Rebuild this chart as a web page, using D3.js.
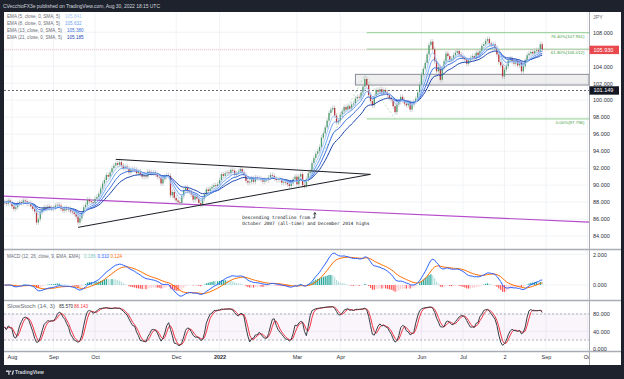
<!DOCTYPE html>
<html>
<head>
<meta charset="utf-8">
<script src="https://cdn.jsdelivr.net/npm/d3@7"></script>
<style>
html, body { margin: 0; padding: 0; background: #1e222d; }
svg { display: block; font-family: "Liberation Sans", Arial, sans-serif; }
</style>
</head>
<body>
<div id="chart"></div>
<script>
// ---- data (CAD/JPY daily closes) ----
const firstDay = "2021-07-27";
const jul21 = [88.0, 87.8, 88.2, 87.9];
const aug21 = [87.5, 87.2, 87.4, 87.8, 88.0, 87.9, 88.2, 88.1, 87.8, 87.9, 87.5, 87.2, 86.9, 85.6, 86.0, 86.8, 87.1, 87.4, 87.2, 87.5, 87.3, 87.2];
const sep21 = [87.3, 87.6, 87.7, 87.6, 87.2, 87.0, 87.3, 87.1, 87.2, 86.9, 86.8, 86.6, 86.3, 85.6, 86.1, 86.7, 87.4, 87.7, 88.3, 88.1, 88.0, 87.9];
const oct21 = [88.4, 88.6, 89.0, 89.6, 90.2, 90.6, 91.2, 91.0, 91.5, 92.0, 92.3, 92.6, 92.4, 92.7, 92.3, 92.0, 92.2, 92.0, 91.5, 91.8, 91.9];
const nov21 = [91.8, 91.4, 91.6, 91.3, 91.0, 91.2, 91.0, 91.6, 91.5, 91.4, 91.5, 91.3, 91.0, 90.9, 90.2, 90.7, 91.0, 91.2, 91.1, 88.8, 89.2, 88.5];
const dec21 = [88.2, 88.0, 87.9, 88.7, 89.4, 89.7, 89.3, 89.2, 88.9, 88.3, 88.7, 88.4, 87.9, 87.7, 88.4, 88.9, 89.5, 89.3, 89.6, 89.8, 90.0, 89.9, 90.1];
const jan22 = [90.6, 91.3, 91.1, 91.4, 91.5, 91.4, 91.8, 91.7, 91.2, 91.4, 91.6, 91.9, 91.5, 91.2, 90.5, 90.3, 90.4, 90.8, 90.4, 90.9, 90.8];
const feb22 = [90.8, 90.6, 90.4, 90.6, 90.6, 90.9, 91.2, 91.1, 90.8, 90.6, 90.7, 90.6, 90.3, 90.4, 90.3, 90.1, 89.9, 90.2, 90.7, 91.0];
const mar22 = [90.1, 91.0, 91.3, 90.0, 89.9, 90.7, 91.4, 91.6, 92.6, 93.2, 93.7, 94.0, 94.5, 95.6, 96.1, 96.8, 97.6, 98.5, 98.9, 99.1, 98.2, 97.4, 97.6];
const apr22 = [98.3, 98.7, 99.2, 98.9, 99.3, 99.0, 99.5, 99.6, 100.2, 100.4, 100.3, 100.9, 101.6, 102.5, 101.8, 100.6, 99.9, 99.4, 100.5, 101.2, 101.0];
const may22 = [101.3, 100.8, 101.2, 100.9, 100.6, 100.3, 100.1, 99.3, 98.6, 99.5, 99.8, 100.4, 100.0, 99.6, 99.4, 99.7, 98.9, 99.5, 99.8, 100.2, 100.9, 101.8];
const jun22 = [103.0, 103.7, 104.4, 105.4, 106.5, 106.9, 106.0, 104.6, 103.4, 103.9, 102.4, 103.8, 104.6, 105.5, 105.2, 104.7, 104.9, 105.3, 105.6, 105.8, 105.4, 105.2];
const jul22 = [105.0, 104.8, 104.3, 104.7, 105.0, 105.2, 104.9, 105.6, 105.3, 105.8, 106.4, 106.6, 107.0, 107.2, 106.7, 106.5, 106.6, 106.2, 105.4, 104.5, 104.1];
const aug22 = [102.8, 103.6, 104.0, 104.7, 104.9, 104.6, 104.3, 104.6, 104.1, 104.4, 103.4, 104.0, 104.7, 105.3, 105.5, 105.7, 105.5, 105.8, 105.9, 105.7, 106.6, 105.93];

const tickDates = ["2021-08-02", "2021-09-01", "2021-10-01", "2021-12-01", "2022-01-03", "2022-03-01", "2022-04-01", "2022-06-01", "2022-07-01", "2022-08-02", "2022-09-01", "2022-10-03"];
const tickLabels = ["Aug", "Sep", "Oct", "Dec", "2022", "Mar", "Apr", "Jun", "Jul", "2", "Sep", "Oct"];
const priceTicks = [84, 86, 88, 90, 92, 94, 96, 98, 100, 102, 104, 108];
const macdTicks = [0, 2];
const stochTicks = [0, 40, 80];

const emaLengths = [5, 8, 13, 21];
const emaLegendValues = ["105.841", "105.632", "105.380", "105.185"];
const macdLegendValues = ["0.186", "0.310", "0.124"];
const stochLegendValues = ["85.570", "88.143"];

// drawings
const triangleUpper = [["2021-10-18", 93.04], ["2022-04-25", 91.27]];
const triangleLower = [["2021-09-20", 85.03], ["2022-04-25", 91.27]];
const longTrend = [["2021-07-27", 88.70], ["2022-10-03", 85.65]];
const supportLevel = 101.149;
const lastPrice = 105.930;
const boxStart = "2022-04-13";
const boxPrices = [101.79, 103.05];
const fibStart = "2022-04-21";
const fibPrices = [107.951, 106.012, 97.796];
const fibLabels = ["76.40%(107.951)", "61.80%(106.012)", "0.00%(97.796)"];
const fibPoints = [["2022-03-07", 89.68], ["2022-04-20", 102.97], ["2022-05-12", 97.796]];
const noteAnchor = ["2022-01-19", 86.0];
const noteLines = ["Descending trendline from", "October 2007 (all-time) and December 2014 highs"];

const closes = [].concat(jul21, aug21, sep21, oct21, nov21, dec21, jan22, feb22, mar22, apr22, may22, jun22, jul22, aug22);

// weekday calendar (bar slots), runs past the data into the empty right space
const dates = [];
{
    let d = new Date(firstDay + "T00:00:00Z");
    while (dates.length < 340) {
        const w = d.getUTCDay();
        if (w > 0 && w < 6) dates.push(d.toISOString().slice(0, 10));
        d.setUTCDate(d.getUTCDate() + 1);
    }
}
const idx = s => dates.indexOf(s);

// candles: open is the previous close, wicks a fixed pad beyond the body
const wickPad = 0.3;
const bars = closes.map((c, i) => {
    const o = i ? closes[i - 1] : c;
    return { i, o, c, h: Math.max(o, c) + wickPad, l: Math.min(o, c) - wickPad };
});

// ---- indicators ----
function ema(arr, n) {
    const k = 2 / (n + 1);
    let prev;
    return arr.map((v, i) => (prev = i === 0 ? v : v * k + prev * (1 - k)));
}
function sma(arr, n) {
    return arr.map((v, i) => d3.mean(arr.slice(Math.max(0, i - n + 1), i + 1)));
}
const emas = emaLengths.map(n => ema(closes, n));
const ema12 = ema(closes, 12), ema26 = ema(closes, 26);
const macd = closes.map((c, i) => ema12[i] - ema26[i]);
const signal = ema(macd, 9);
const hist = macd.map((m, i) => m - signal[i]);
const rawK = bars.map((b, i) => {
    const w = bars.slice(Math.max(0, i - 13), i + 1);
    const hi = d3.max(w, d => d.h), lo = d3.min(w, d => d.l);
    return 100 * (b.c - lo) / (hi - lo);
});
const stochK = sma(rawK, 3);
const stochD = sma(stochK, 3);

// ---- layout ----
const W = 624, H = 379;
const left = 4, right = 589;
const mainPane = { top: 12, bottom: 249 };
const macdPane = { top: 250.5, bottom: 300 };
const stochPane = { top: 301.5, bottom: 351 };

const x = d3.scaleLinear().domain([idx("2021-08-02"), idx("2022-09-01")]).range([12, 546]);
const y = d3.scaleLinear().domain([84, 108]).range([236.1, 32.3]);
const yMacd = d3.scaleLinear().domain([0, 2]).range([285, 254.3]);
const yStoch = d3.scaleLinear().domain([0, 80]).range([348.7, 314]);

const upColor = "#4f9d6f", downColor = "#b8363a";
const emaColors = ["#a7c9f7", "#6ea2f2", "#3b6fe0", "#1d45b0"];

const svg = d3.select("#chart").append("svg").attr("width", W).attr("height", H);
svg.append("rect").attr("width", W).attr("height", H).attr("fill", "#1e222d");
svg.append("rect").attr("x", 4).attr("y", 12).attr("width", 617).attr("height", 353).attr("fill", "#ffffff");

const defs = svg.append("defs");
[["clipMain", mainPane], ["clipMacd", macdPane], ["clipStoch", stochPane], ["clipTime", { top: 352, bottom: 365 }]].forEach(([id, p]) => {
    defs.append("clipPath").attr("id", id).append("rect")
        .attr("x", left).attr("y", p.top).attr("width", right - left).attr("height", p.bottom - p.top);
});

// grid
const grid = svg.append("g");
grid.selectAll(".vg").data(tickDates).join("line")
    .attr("x1", d => x(idx(d))).attr("x2", d => x(idx(d)))
    .attr("y1", 12).attr("y2", 351)
    .attr("stroke", "#eef0f4").attr("stroke-width", 0.8);
grid.selectAll(".hg").data([...priceTicks, 106]).join("line")
    .attr("x1", left).attr("x2", right).attr("y1", d => y(d)).attr("y2", d => y(d))
    .attr("stroke", "#eef0f4").attr("stroke-width", 0.8);
grid.selectAll(".hm").data(macdTicks).join("line")
    .attr("x1", left).attr("x2", right).attr("y1", d => yMacd(d)).attr("y2", d => yMacd(d))
    .attr("stroke", "#eef0f4").attr("stroke-width", 0.8);
grid.selectAll(".hs").data(stochTicks).join("line")
    .attr("x1", left).attr("x2", right).attr("y1", d => yStoch(d)).attr("y2", d => yStoch(d))
    .attr("stroke", "#eef0f4").attr("stroke-width", 0.8);

// ---- main pane ----
const main = svg.append("g").attr("clip-path", "url(#clipMain)");

// gray zone box
main.append("rect")
    .attr("x", x(idx(boxStart))).attr("width", right - x(idx(boxStart)))
    .attr("y", y(boxPrices[1])).attr("height", y(boxPrices[0]) - y(boxPrices[1]))
    .attr("fill", "rgba(120,123,134,0.13)").attr("stroke", "#8a8d96").attr("stroke-width", 1);

// fib extension
main.append("path")
    .attr("d", d3.line().x(d => x(idx(d[0]))).y(d => y(d[1]))(fibPoints))
    .attr("fill", "none").attr("stroke", "#9fd4a2").attr("stroke-width", 0.7).attr("stroke-dasharray", "2,2");
main.selectAll(".fib").data(fibPrices).join("line")
    .attr("x1", x(idx(fibStart))).attr("x2", right)
    .attr("y1", d => y(d)).attr("y2", d => y(d))
    .attr("stroke", "#8fcf92").attr("stroke-width", 1);
main.selectAll(".fibl").data(fibLabels).join("text")
    .attr("x", 584.5).attr("y", (d, i) => y(fibPrices[i]) + 5.2)
    .attr("text-anchor", "end").attr("font-size", 4.4).attr("fill", "#43a047")
    .text(d => d);

// long descending trendline (purple), extended to the pane edges
{
    const [a, b] = longTrend;
    const i0 = idx(a[0]), i1 = idx(b[0]);
    const slope = (b[1] - a[1]) / (i1 - i0);
    const at = i => a[1] + slope * (i - i0);
    main.append("line")
        .attr("x1", left).attr("y1", y(at(x.invert(left))))
        .attr("x2", right).attr("y2", y(at(x.invert(right))))
        .attr("stroke", "#b64ccb").attr("stroke-width", 1.1);
}

// support dashed line and last price line
main.append("line").attr("x1", left).attr("x2", right)
    .attr("y1", y(supportLevel)).attr("y2", y(supportLevel))
    .attr("stroke", "#50535e").attr("stroke-width", 0.9).attr("stroke-dasharray", "2,2");
main.append("line").attr("x1", left).attr("x2", right)
    .attr("y1", y(lastPrice)).attr("y2", y(lastPrice))
    .attr("stroke", "#f7a1a8").attr("stroke-width", 0.6).attr("stroke-dasharray", "1,1");

// candles
main.selectAll(".wick").data(bars).join("line")
    .attr("x1", d => x(d.i)).attr("x2", d => x(d.i))
    .attr("y1", d => y(d.h)).attr("y2", d => y(d.l))
    .attr("stroke", "#b3b6be").attr("stroke-width", 0.6);
main.selectAll(".body").data(bars).join("rect")
    .attr("x", d => x(d.i) - 0.65).attr("width", 1.3)
    .attr("y", d => y(Math.max(d.o, d.c)))
    .attr("height", d => Math.max(0.6, Math.abs(y(d.o) - y(d.c))))
    .attr("fill", d => d.c >= d.o ? upColor : downColor);

// EMAs, slowest first so the fast one sits on top
for (let j = emas.length - 1; j >= 0; j--) {
    main.append("path")
        .attr("d", d3.line().x((d, i) => x(i)).y(d => y(d))(emas[j]))
        .attr("fill", "none").attr("stroke", emaColors[j]).attr("stroke-width", 1);
}

// triangle
[triangleUpper, triangleLower].forEach(seg => {
    main.append("path")
        .attr("d", d3.line().x(d => x(idx(d[0]))).y(d => y(d[1]))(seg))
        .attr("fill", "none").attr("stroke", "#1b1d24").attr("stroke-width", 1);
});

// note
const note = main.append("g")
    .attr("transform", `translate(${x(idx(noteAnchor[0]))},${y(noteAnchor[1])})`);
note.selectAll("text").data(noteLines).join("text")
    .attr("x", 0).attr("y", (d, i) => i * 5.4)
    .attr("font-family", "'DejaVu Sans Mono', monospace").attr("font-size", 4.5)
    .attr("fill", "#131722").text(d => d);
note.append("path")
    .attr("d", "M70.5,-1.2 H72.6 V-6.2 M71.4,-4.8 L72.6,-6.6 L73.8,-4.8")
    .attr("fill", "none").attr("stroke", "#131722").attr("stroke-width", 0.8);

// ---- MACD pane ----
const macdG = svg.append("g").attr("clip-path", "url(#clipMacd)");
macdG.selectAll("rect").data(hist).join("rect")
    .attr("x", (d, i) => x(i) - 0.6).attr("width", 1.2)
    .attr("y", d => Math.min(yMacd(d), yMacd(0)))
    .attr("height", d => Math.abs(yMacd(d) - yMacd(0)))
    .attr("fill", (d, i) => {
        const p = i ? hist[i - 1] : d;
        if (d >= 0) return d >= p ? "#26a69a" : "#b2dfdb";
        return d < p ? "#ff5252" : "#ffcdd2";
    });
macdG.append("path").attr("d", d3.line().x((d, i) => x(i)).y(d => yMacd(d))(signal))
    .attr("fill", "none").attr("stroke", "#ff6d00").attr("stroke-width", 1);
macdG.append("path").attr("d", d3.line().x((d, i) => x(i)).y(d => yMacd(d))(macd))
    .attr("fill", "none").attr("stroke", "#2962ff").attr("stroke-width", 1);

// ---- Stoch pane ----
const stochG = svg.append("g").attr("clip-path", "url(#clipStoch)");
stochG.append("rect").attr("x", left).attr("width", right - left)
    .attr("y", yStoch(80)).attr("height", yStoch(20) - yStoch(80))
    .attr("fill", "rgba(156,39,176,0.05)");
[80, 20].forEach(v => {
    stochG.append("line").attr("x1", left).attr("x2", right)
        .attr("y1", yStoch(v)).attr("y2", yStoch(v))
        .attr("stroke", "#8f929b").attr("stroke-width", 0.7).attr("stroke-dasharray", "2,2");
});
stochG.append("path").attr("d", d3.line().x((d, i) => x(i)).y(d => yStoch(d))(stochD))
    .attr("fill", "none").attr("stroke", "#f23645").attr("stroke-width", 1);
stochG.append("path").attr("d", d3.line().x((d, i) => x(i)).y(d => yStoch(d))(stochK))
    .attr("fill", "none").attr("stroke", "#3a3d45").attr("stroke-width", 1);

// ---- separators ----
const sep = svg.append("g").attr("stroke", "#a9acb4");
[249.5, 300.5, 351.5].forEach(v => sep.append("line").attr("x1", 4).attr("x2", 621).attr("y1", v).attr("y2", v).attr("stroke-width", 1.4));
sep.append("line").attr("x1", right + 0.5).attr("x2", right + 0.5).attr("y1", 12).attr("y2", 365).attr("stroke-width", 1);

// ---- axes ----
function styleAxis(g) {
    g.select(".domain").remove();
    g.selectAll("text").attr("font-size", 5.5).attr("fill", "#2a2e39").attr("font-family", "'Liberation Sans', Arial, sans-serif");
}
svg.append("g").attr("transform", `translate(${right},0)`)
    .call(d3.axisRight(y).tickValues(priceTicks).tickFormat(d3.format(".3f")).tickSize(0).tickPadding(4))
    .call(styleAxis);
svg.append("g").attr("transform", `translate(${right},0)`)
    .call(d3.axisRight(yMacd).tickValues(macdTicks).tickFormat(d3.format(".3f")).tickSize(0).tickPadding(4))
    .call(styleAxis);
svg.append("g").attr("transform", `translate(${right},0)`)
    .call(d3.axisRight(yStoch).tickValues(stochTicks).tickFormat(d3.format(".3f")).tickSize(0).tickPadding(4))
    .call(styleAxis);
svg.append("g").attr("clip-path", "url(#clipTime)").append("g").attr("transform", `translate(0,352)`)
    .call(d3.axisBottom(x).tickValues(tickDates.map(idx)).tickFormat((d, i) => tickLabels[i]).tickSize(0).tickPadding(3.2))
    .call(styleAxis)
    .call(g => g.selectAll("text").attr("font-weight", (d, i) => tickLabels[i] === "2022" ? "bold" : "normal"));

svg.append("text").attr("x", 593).attr("y", 17).attr("dy", "0.35em")
    .attr("font-size", 5.3).attr("fill", "#6a6d78").text("JPY");

// price boxes on the axis
function priceTag(v, fill) {
    svg.append("rect").attr("x", right + 0.5).attr("y", y(v) - 4.2).attr("width", 29.5).attr("height", 8.4)
        .attr("fill", fill);
    svg.append("text").attr("x", 593.5).attr("y", y(v)).attr("dy", "0.35em")
        .attr("font-size", 5.5).attr("fill", "#ffffff").text(d3.format(".3f")(v));
}
priceTag(supportLevel, "#131722");
priceTag(lastPrice, "#e8484e");

// ---- legends ----
const leg = svg.append("g").attr("font-size", 4.6);
emaLengths.forEach((n, i) => {
    const yy = 16 + i * 7;
    leg.append("text").attr("x", 7).attr("y", yy).attr("dy", "0.35em").attr("fill", "#6a6d78")
        .attr("textLength", i < 2 ? 53 : 55).attr("lengthAdjust", "spacingAndGlyphs")
        .text(`EMA (${n}, close, 0, SMA, 5)`);
    leg.append("text").attr("x", i < 2 ? 65 : 67).attr("y", yy).attr("dy", "0.35em").attr("fill", emaColors[i])
        .text(emaLegendValues[i]);
});
leg.append("text").attr("x", 7).attr("y", 256).attr("dy", "0.35em").attr("fill", "#6a6d78")
    .attr("textLength", 73).attr("lengthAdjust", "spacingAndGlyphs")
    .text("MACD (12, 26, close, 9, EMA, EMA)");
[["#7fc8bf", 84], ["#2962ff", 97.5], ["#ff6d00", 110.5]].forEach(([c, xx], i) => {
    leg.append("text").attr("x", xx).attr("y", 256).attr("dy", "0.35em").attr("fill", c).text(macdLegendValues[i]);
});
leg.append("text").attr("x", 7).attr("y", 306.5).attr("dy", "0.35em").attr("fill", "#6a6d78")
    .attr("textLength", 48).attr("lengthAdjust", "spacingAndGlyphs")
    .text("SlowStoch (14, 3)");
[["#2a2e39", 59], ["#f23645", 74]].forEach(([c, xx], i) => {
    leg.append("text").attr("x", xx).attr("y", 306.5).attr("dy", "0.35em").attr("fill", c).text(stochLegendValues[i]);
});

// ---- header / footer ----
svg.append("text").attr("x", 3).attr("y", 6).attr("dy", "0.35em")
    .attr("font-size", 5).attr("fill", "#d1d4dc").attr("textLength", 157)
    .text("CVecchioFX3e published on TradingView.com, Aug 30, 2022 18:15 UTC");
const logo = svg.append("g").attr("fill", "#d1d4dc");
logo.append("path").attr("d", "M6,370.6 H9.6 V374.8 H8.2 V372 H6 Z");
logo.append("circle").attr("cx", 10.6).attr("cy", 371.3).attr("r", 0.7);
logo.append("path").attr("d", "M11.6,374.8 L12.7,370.6 H14.1 L13,374.8 Z");
svg.append("text").attr("x", 15).attr("y", 372.7).attr("dy", "0.35em")
    .attr("font-size", 4.9).attr("font-weight", "bold").attr("fill", "#d1d4dc").text("TradingView");
</script>
</body>
</html>
